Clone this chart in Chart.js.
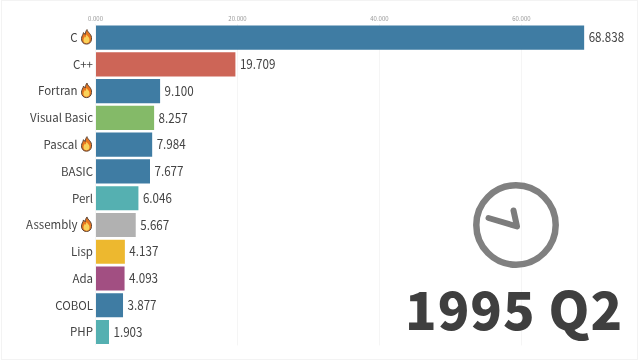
<!DOCTYPE html>
<html>
<head>
<meta charset="utf-8">
<style>
  html, body { margin: 0; padding: 0; background: #fff; overflow: hidden; }
  #wrap { position: relative; width: 640px; height: 360px; }
  #frame { position: absolute; left: 1px; top: 0; width: 635px; height: 358px; border: 1px solid #f3f3f3; pointer-events: none; }
  #clock { position: absolute; left: 460px; top: 170px; }
  #period { position: absolute; left: 405px; top: 268px; font: 900 52px "Noto Sans CJK SC", "Noto Sans", sans-serif; line-height: 80px; letter-spacing: 1px; color: #3f3f3f; white-space: nowrap; }
</style>
</head>
<body>
<div id="wrap">
  <canvas id="chart" width="640" height="360"></canvas>
  <div id="frame"></div>
  <svg id="clock" width="112" height="112" viewBox="0 0 112 112">
    <circle cx="56" cy="55" r="39.7" fill="none" stroke="#808080" stroke-width="6.5"/>
    <polyline points="53.5,40.5 57,56.5 28.5,48" fill="none" stroke="#7c7c7c" stroke-width="6" stroke-linecap="round" stroke-linejoin="round"/>
  </svg>
  <div id="period">1995 Q2</div>
</div>
<script src="https://cdn.jsdelivr.net/npm/chart.js@4/dist/chart.umd.min.js"></script>
<script>
const languages = ['C', 'C++', 'Fortran', 'Visual Basic', 'Pascal', 'BASIC', 'Perl', 'Assembly', 'Lisp', 'Ada', 'COBOL', 'PHP'];
const shares = [68.838, 19.709, 9.100, 8.257, 7.984, 7.677, 6.046, 5.667, 4.137, 4.093, 3.877, 1.903];
const barColors = ['#3f7ca3', '#cd6557', '#3f7ca3', '#84ba68', '#3f7ca3', '#3f7ca3', '#55b0b1', '#b1b1b1', '#edb82f', '#a24f82', '#3f7ca3', '#55b0b1'];
const onFire = ['C', 'Fortran', 'Pascal', 'Assembly'];
const xTicks = [0, 20, 40, 60];

const fontFamily = '"Noto Sans CJK SC", "Noto Sans", sans-serif';

function drawFlame(ctx, cx, cy) {
  ctx.save();
  ctx.translate(cx, cy);
  ctx.lineJoin = 'round';
  const shape = (s) => {
    ctx.beginPath();
    ctx.moveTo(0.5 * s, -7.5 * s);
    ctx.bezierCurveTo(1 * s, -4.5 * s, 5.6 * s, -3 * s, 5 * s, 2 * s);
    ctx.bezierCurveTo(4.8 * s, 5.5 * s, 2.5 * s, 7 * s, 0, 7 * s);
    ctx.bezierCurveTo(-3 * s, 7 * s, -5.1 * s, 5 * s, -5 * s, 1.5 * s);
    ctx.bezierCurveTo(-4.9 * s, -1 * s, -3.5 * s, -2 * s, -3 * s, -4.5 * s);
    ctx.bezierCurveTo(-2 * s, -3.5 * s, -1.5 * s, -3 * s, -1.3 * s, -2.6 * s);
    ctx.bezierCurveTo(-1 * s, -4.5 * s, -0.5 * s, -6.5 * s, 0.5 * s, -7.5 * s);
    ctx.closePath();
  };
  shape(1);
  ctx.fillStyle = '#e8761e';
  ctx.strokeStyle = '#5a4436';
  ctx.lineWidth = 1;
  ctx.fill();
  ctx.stroke();
  ctx.translate(0, 2);
  shape(0.6);
  ctx.fillStyle = '#f9d25a';
  ctx.fill();
  ctx.restore();
}

const barExtras = {
  id: 'barExtras',
  afterDatasetsDraw(chart) {
    const { ctx, scales } = chart;
    ctx.save();
    ctx.font = '13.5px ' + fontFamily;
    ctx.fillStyle = '#444';
    ctx.textAlign = 'left';
    ctx.textBaseline = 'middle';
    shares.forEach((v, i) => {
      const y = scales.y.getPixelForValue(i);
      // the reference digits are narrower than any installed font
      ctx.save();
      ctx.translate(scales.x.getPixelForValue(v) + 4.5, y - 0.5);
      ctx.scale(0.86, 1);
      ctx.fillText(v.toFixed(3), 0, 0);
      ctx.restore();
      if (onFire.includes(languages[i])) {
        drawFlame(ctx, scales.x.left - 9, y - 0.5);
      }
    });
    ctx.restore();
  }
};

new Chart(document.getElementById('chart'), {
  type: 'bar',
  data: {
    labels: languages,
    datasets: [{
      data: shares,
      backgroundColor: barColors,
      categoryPercentage: 0.9,
      barPercentage: 1
    }]
  },
  options: {
    indexAxis: 'y',
    responsive: false,
    animation: false,
    layout: { padding: { top: 0, right: 5, bottom: 14.6, left: 0 } },
    plugins: { legend: { display: false }, tooltip: { enabled: false } },
    scales: {
      x: {
        position: 'top',
        min: 0,
        max: 76,
        afterBuildTicks: (scale) => { scale.ticks = xTicks.map(v => ({ value: v })); },
        afterFit: (scale) => { scale.height = 24.2; },
        border: { display: false },
        grid: { color: '#f5f5f5', drawTicks: false },
        ticks: {
          autoSkip: false,
          maxRotation: 0,
          padding: 2,
          color: '#999',
          font: { size: 6, family: fontFamily },
          callback: (v) => v.toFixed(3)
        }
      },
      y: {
        afterFit: (scale) => { scale.width = 95.5; },
        border: { display: false },
        grid: { display: false, drawTicks: false },
        ticks: {
          autoSkip: false,
          padding: 2.5,
          color: '#444',
          font: { size: 11.5, family: fontFamily },
          // leave room for the flame next to the name
          callback: (v, i) => onFire.includes(languages[i]) ? languages[i] + '\u00a0\u00a0\u00a0\u00a0\u00a0\u00a0' : languages[i]
        }
      }
    }
  },
  plugins: [barExtras]
});
</script>
</body>
</html>
